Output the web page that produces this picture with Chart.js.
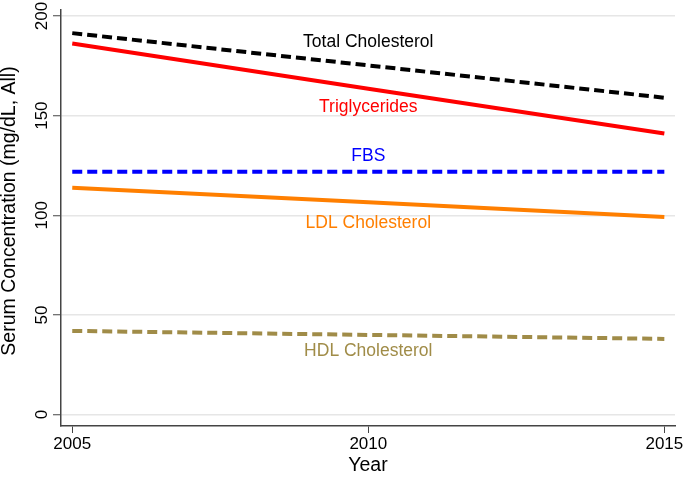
<!DOCTYPE html>
<html>
<head>
<meta charset="utf-8">
<script src="https://cdn.jsdelivr.net/npm/chart.js@4/dist/chart.umd.min.js"></script>
<style>
  html, body { margin: 0; padding: 0; background: #fff; }
  #wrap { width: 685px; height: 477px; position: relative; }
</style>
</head>
<body>
<div id="wrap"><canvas id="lipidChart"></canvas></div>
<script>
// values (mg/dL)
const years = [2005, 2010, 2015];
const totalChol = [191.4, 175.2, 159.0];
const triglycerides = [186.2, 163.5, 141.0];
const fbs = [121.8, 121.8, 121.8];
const ldlChol = [113.8, 106.5, 99.2];
const hdlChol = [42.0, 40.0, 38.0];

const xTicks = [2005, 2010, 2015];
const yTicks = [0, 50, 100, 150, 200];

const FONT = "'Liberation Sans', Arial, sans-serif";

function pts(vals) {
  return years.map((y, i) => ({ x: y, y: vals[i] }));
}

// in-plot labels placed in data units
const lineLabels = [
  { text: "Total Cholesterol", x: 2010, y: 186.8, color: "#000000" },
  { text: "Triglycerides", x: 2010, y: 154.5, color: "#ff0000" },
  { text: "FBS", x: 2010, y: 129.5, color: "#0000ff" },
  { text: "LDL Cholesterol", x: 2010, y: 96, color: "#ff7f00" },
  { text: "HDL Cholesterol", x: 2010, y: 31.8, color: "#a08c48" }
];

const labelPlugin = {
  id: "labels",
  afterDraw(chart) {
    const ctx = chart.ctx;
    const xs = chart.scales.x;
    const ys = chart.scales.y;
    ctx.save();
    ctx.font = "17.5px " + FONT;
    ctx.textAlign = "center";
    ctx.textBaseline = "middle";
    for (const l of lineLabels) {
      ctx.fillStyle = l.color;
      ctx.fillText(l.text, xs.getPixelForValue(l.x), ys.getPixelForValue(l.y));
    }
    // rotated y tick labels
    ctx.font = "17px " + FONT;
    ctx.fillStyle = "#000";
    for (const v of yTicks) {
      const py = ys.getPixelForValue(v);
      ctx.save();
      ctx.translate(ys.right - 19, py);
      ctx.rotate(-Math.PI / 2);
      ctx.fillText(String(v), 0, 0);
      ctx.restore();
    }
    // y axis title
    ctx.save();
    ctx.font = "19.5px " + FONT;
    ctx.translate(9.5, 211);
    ctx.rotate(-Math.PI / 2);
    ctx.fillText("Serum Concentration (mg/dL, All)", 0, 0);
    ctx.restore();
    ctx.restore();
  }
};

const ds = (label, vals, color, dash) => ({
  label,
  data: pts(vals),
  borderColor: color,
  borderWidth: 4,
  borderDash: dash,
  pointRadius: 0,
  tension: 0,
  fill: false
});

new Chart(document.getElementById("lipidChart"), {
  type: "line",
  data: {
    datasets: [
      ds("HDL Cholesterol", hdlChol, "#a08c48", [10, 5]),
      ds("LDL Cholesterol", ldlChol, "#ff7f00", []),
      ds("FBS", fbs, "#0000ff", [10, 5]),
      ds("Triglycerides", triglycerides, "#ff0000", []),
      ds("Total Cholesterol", totalChol, "#000000", [10, 5])
    ]
  },
  options: {
    responsive: true,
    maintainAspectRatio: false,
    animation: false,
    layout: { padding: { top: 10, right: 10, left: 0, bottom: 0 } },
    plugins: { legend: { display: false }, tooltip: { enabled: false } },
    scales: {
      x: {
        type: "linear",
        min: 2004.81,
        max: 2015.18,
        afterBuildTicks(s) { s.ticks = xTicks.map((v) => ({ value: v })); },
        afterFit(s) { s.height = 51; },
        ticks: {
          color: "#000",
          font: { family: FONT, size: 17 },
          padding: 1,
          maxRotation: 0,
          callback: (v) => String(v)
        },
        grid: { display: true, drawOnChartArea: false, tickLength: 7, color: "#444", tickWidth: 1 },
        border: { color: "#444", width: 1.5 },
        title: { display: true, text: "Year", color: "#000", font: { family: FONT, size: 19.5 }, padding: 0 }
      },
      y: {
        type: "linear",
        min: -5.7,
        max: 203,
        afterBuildTicks(s) { s.ticks = yTicks.map((v) => ({ value: v })); },
        afterFit(s) { s.width = 61; },
        ticks: { display: false },
        grid: { color: "#e6e6e6", lineWidth: 1.5, tickLength: 8, tickColor: "#444", tickWidth: 1 },
        border: { color: "#444", width: 1.5 },
        title: { display: false }
      }
    }
  },
  plugins: [labelPlugin]
});
</script>
</body>
</html>
